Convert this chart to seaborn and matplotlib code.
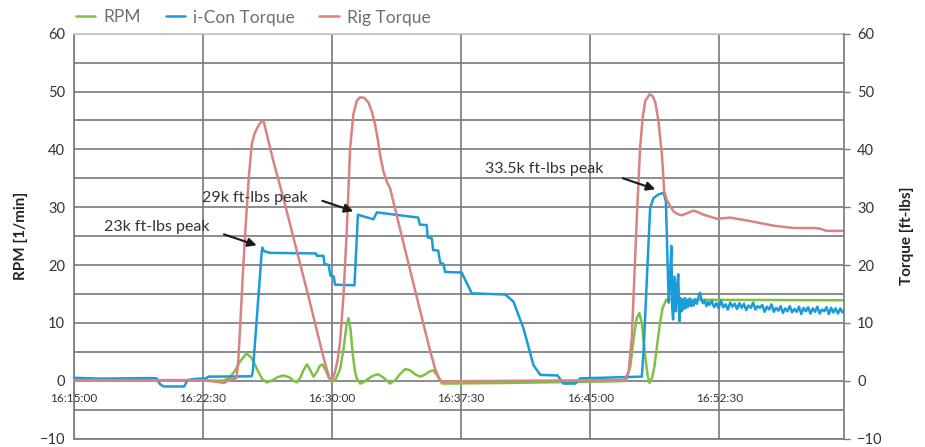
import numpy as np
import pandas as pd
import matplotlib
matplotlib.use("Agg")
import matplotlib.pyplot as plt
import seaborn as sns

# ---------------- data (time in seconds after 16:15:00) ----------------
rpm_t = [0, 520, 540, 560, 580, 602, 620, 640, 656, 672, 690, 710, 730, 750, 765,
         777, 790, 800, 812, 822, 835, 848, 856, 866, 876, 888, 899, 912, 928, 940,
         950, 957, 964, 972, 980, 986, 998, 1012, 1025, 1045, 1061, 1080, 1102, 1120,
         1138, 1155, 1172, 1190, 1207, 1222, 1240, 1253, 1268, 1283, 1500, 1904, 1925,
         1940, 1952, 1962, 1971, 1980, 1990, 2000, 2007, 2016, 2024, 2032, 2042, 2052,
         2065, 2685]
rpm_v = [0.0, 0.0, 0.4, 1.6, 3.4, 4.7, 3.9, 1.8, 0.3, -0.3, 0.0, 0.6, 0.9, 0.6, 0.0,
         -0.3, 0.6, 1.8, 2.8, 2.0, 0.7, 1.6, 2.5, 2.8, 2.0, 0.6, -0.2, 0.2, 2.0, 5.5,
         9.5, 10.8, 9.0, 4.5, 1.5, 0.4, -0.5, -0.2, 0.3, 0.9, 1.1, 0.5, -0.5, 0.1,
         1.2, 2.0, 1.8, 1.1, 0.7, 1.0, 1.6, 1.8, 0.8, -0.5, -0.4, -0.1, 0.0,
         2.5, 7.5, 10.8, 11.7, 10.0, 5.0, 1.0, -0.4, 0.5, 2.5, 5.6, 9.5, 12.5,
         14.0, 13.9]

icon_t = [0, 90, 264, 288, 300, 312, 384, 396, 420, 462, 468, 612, 620, 624, 640,
          655, 657, 662, 684, 844, 846, 870, 873, 888, 894, 906, 910, 978, 990, 1044,
          1056, 1200, 1206, 1230, 1233, 1248, 1252, 1270, 1277, 1288, 1294, 1352, 1387,
          1504, 1532, 1567, 1602, 1626, 1686, 1707, 1748, 1765, 1904, 1980, 1986, 2009,
          2021, 2038, 2056, 2064, 2070, 2074, 2078, 2083, 2086, 2089, 2094, 2099, 2103,
          2107, 2111, 2115, 2119, 2122, 2126, 2130, 2134, 2137, 2142, 2147, 2152, 2156,
          2161, 2166, 2172, 2178, 2183, 2188, 2193, 2199, 2205, 2211,
          2216, 2224, 2232, 2240, 2248, 2256, 2264, 2272, 2280, 2288, 2296, 2304, 2312,
          2320, 2328, 2336, 2344, 2352, 2360, 2368, 2376, 2384, 2392, 2400, 2408, 2416,
          2424, 2432, 2440, 2448, 2456, 2464, 2472, 2480, 2488, 2496, 2504, 2512, 2520,
          2528, 2536, 2544, 2552, 2560, 2568, 2576, 2584, 2592, 2600, 2608, 2616, 2624,
          2632, 2640, 2648, 2656, 2664, 2672, 2680, 2685]
icon_v = [0.5, 0.35, 0.45, 0.4, -0.6, -1.0, -1.0, 0.1, 0.3, 0.4, 0.7, 0.75, 0.8, 1.8, 12.5,
          22.5, 23.0, 22.4, 22.1, 22.0, 21.6, 21.6, 20.2, 20.0, 18.2, 18.0, 16.6, 16.5, 28.7, 27.9,
          29.1, 28.2, 27.0, 26.9, 24.8, 24.6, 22.6, 22.5, 20.4, 20.2, 18.8, 18.7, 15.1,
          14.9, 13.7, 9.1, 2.7, 1.0, 0.9, -0.5, -0.5, 0.4, 0.6, 0.7, 5.0, 29.9,
          31.6, 32.2, 32.5, 31.0, 20.0, 13.5, 17.0, 23.3, 12.5, 10.6, 18.0, 12.0, 16.3,
          18.4, 10.3, 14.3, 12.0, 14.0, 12.4, 14.3, 12.6, 13.9, 12.8, 14.2, 12.9, 13.8,
          13.0, 14.1, 13.3, 14.6, 15.2, 14.0, 13.4, 13.9, 12.9, 13.6,
          13.1, 13.8, 12.7, 13.4, 12.5, 13.9, 12.7, 13.2, 12.3, 13.5, 12.8, 13.3, 12.4,
          13.4, 12.6, 13.3, 12.2, 13.0, 12.6, 13.5, 12.3, 12.9, 12.6, 13.1, 11.9, 12.8,
          12.3, 13.2, 11.9, 12.6, 12.1, 12.9, 11.7, 12.5, 12.0, 12.9, 11.8, 12.4, 11.9,
          12.8, 11.5, 12.6, 12.0, 12.7, 11.6, 12.5, 11.9, 12.8, 11.6, 12.3, 12.0, 12.7,
          11.5, 12.6, 11.8, 12.5, 11.6, 12.5, 11.8, 12.2]

rig_t = [0, 440, 500, 522, 544, 560, 567, 573, 579, 590, 600, 610, 620, 629, 645,
         660, 695, 730, 823, 865, 880, 890, 896, 902, 910, 920, 928, 940, 951, 963,
         974, 986, 998, 1012, 1027, 1040, 1050, 1060, 1067, 1079, 1090, 1102, 1180, 1240,
         1259, 1272, 1283, 1311, 1600, 1904, 1922, 1934, 1945, 1954, 1963, 1974, 1983,
         1992, 2007, 2018, 2027, 2038, 2050, 2058, 2066, 2073, 2090, 2105, 2120, 2140,
         2160, 2178, 2195, 2242, 2288, 2358, 2439, 2509, 2579, 2600, 2625, 2685]
rig_v = [0.1, 0.1, -0.2, -0.4, 0.2, 0.3, 0.5, 3.5, 9.0, 19.5, 28.0, 35.5, 40.9, 42.7, 44.3,
         45.1, 38.0, 31.6, 13.5, 5.0, 2.2, 0.6, 0.0, 0.3, 1.5, 3.8, 6.8, 15.0, 25.8, 40.3,
         46.0, 48.4, 49.0, 48.9, 48.1, 46.3, 44.3, 41.5, 39.1, 36.2, 34.5, 33.3, 17.5, 5.5,
         2.1, 0.5, -0.2, -0.1, 0.0, 0.1, 0.2, 1.6, 7.3, 18.0, 28.7, 40.3, 45.5,
         48.4, 49.5, 49.2, 48.1, 44.9, 39.1, 32.8, 31.4, 30.7, 29.3, 28.8, 28.6, 29.0,
         29.4, 29.1, 28.7, 28.0, 28.2, 27.6, 26.8, 26.4, 26.4, 26.3, 25.9, 25.9]

tick_labels = ["16:15:00", "16:22:30", "16:30:00", "16:37:30", "16:45:00", "16:52:30"]
series_names = ["RPM", "i-Con Torque", "Rig Torque"]
annot_labels = ["23k ft-lbs peak", "29k ft-lbs peak", "33.5k ft-lbs peak"]

# ---------------- style ----------------
sns.set_theme(style="white")
plt.rcParams["font.family"] = ["Lato", "DejaVu Sans"]

GREEN = "#7dc242"
BLUE = "#1b9bd7"
RED = "#d98283"
GRID = "#76797e"
TXT = "#333333"

fig = plt.figure(figsize=(9.25, 4.47), dpi=100)
ax = fig.add_axes([74 / 925, 1 - 438.5 / 447, (844 - 74) / 925, (438.5 - 33.7) / 447])
ax2 = ax.twinx()

rpm_df = pd.DataFrame({"t": rpm_t, "v": rpm_v})
icon_df = pd.DataFrame({"t": icon_t, "v": icon_v})
rig_df = pd.DataFrame({"t": rig_t, "v": rig_v})

sns.lineplot(data=rpm_df, x="t", y="v", ax=ax, color=GREEN, lw=1.8,
             sort=False, estimator=None, label=series_names[0], legend=False)
sns.lineplot(data=icon_df, x="t", y="v", ax=ax2, color=BLUE, lw=1.8,
             sort=False, estimator=None, label=series_names[1], legend=False)
sns.lineplot(data=rig_df, x="t", y="v", ax=ax2, color=RED, lw=1.8,
             sort=False, estimator=None, label=series_names[2], legend=False)
for l in ax.lines + ax2.lines:
    l.set_solid_joinstyle("round")
    l.set_solid_capstyle("round")

xmax = 2685
for a in (ax, ax2):
    a.set_xlim(0, xmax)
    a.set_ylim(-10, 60)
    a.set_xlabel("")

# grid
ax.set_yticks(range(-10, 61, 10))
ax.set_yticks(range(-5, 60, 10), minor=True)
ax.set_xticks([0, 450, 900, 1350, 1800, 2250])
ax.set_xticklabels(tick_labels)
ax.grid(True, which="both", axis="y", color=GRID, lw=1.2)
ax.grid(True, which="major", axis="x", color=GRID, lw=1.2)
ax.set_axisbelow(True)

ax.tick_params(axis="y", which="both", length=0, pad=6.5, labelsize=10.5, labelcolor=TXT)
ax.tick_params(axis="x", length=0, pad=9, labelsize=8.5, labelcolor=TXT)
ax.spines["bottom"].set_position(("data", 0))
ax.spines["bottom"].set_visible(False)
ax.spines["top"].set_color("#c8c8c8")
ax.spines["top"].set_linewidth(1.2)
ax.spines["left"].set_color(GRID)
ax.spines["left"].set_linewidth(1.2)
ax.spines["right"].set_visible(False)

ax2.set_yticks(range(-10, 61, 10))
ax2.tick_params(axis="y", length=4.5, width=1.0, color=GRID, pad=5, labelsize=10.5, labelcolor=TXT)
ax2.spines["right"].set_color(GRID)
ax2.spines["right"].set_linewidth(1.2)
ax2.spines["bottom"].set_color(GRID)
ax2.spines["bottom"].set_linewidth(1.2)
ax2.spines["top"].set_visible(False)
ax2.spines["left"].set_visible(False)
ax2.tick_params(axis="x", length=0, labelbottom=False)

ax.set_ylabel("RPM [1/min]", fontsize=11, fontweight="bold", color="#222222")
ax.yaxis.set_label_coords(-0.0597, 0.5)
ax2.set_ylabel("Torque [ft-lbs]", fontsize=11, fontweight="bold", color="#222222")
ax2.yaxis.set_label_coords(1.0727, 0.5)

# annotations
arrow_kw = dict(arrowstyle="-|>", color="#1a1a1a", lw=1.5, mutation_scale=13,
                shrinkA=0, shrinkB=0)
ann = [
    (annot_labels[0], (288, 26.6), (523, 25.3), (637, 23.4)),
    (annot_labels[1], (631, 31.6), (866, 31.1), (974, 29.3)),
    (annot_labels[2], (1639, 36.6), (1914, 35.0), (2027, 33.1)),
]
for label, txy, a0, a1 in ann:
    ax2.text(txy[0], txy[1], label, ha="center", va="center", fontsize=11.5, color=TXT)
    ax2.annotate("", xy=a1, xytext=a0, arrowprops=arrow_kw)

# legend
handles = [ax.lines[0], ax2.lines[0], ax2.lines[1]]
fig.legend(handles, series_names, loc="upper left", bbox_to_anchor=(76 / 925, 1 - 9.5 / 447),
           ncol=3, frameon=False, fontsize=12.5, labelcolor="#6d6e71",
           handlelength=1.1, handletextpad=0.5, columnspacing=1.4,
           borderpad=0, borderaxespad=0)

fig.savefig("out.png", dpi=100)
